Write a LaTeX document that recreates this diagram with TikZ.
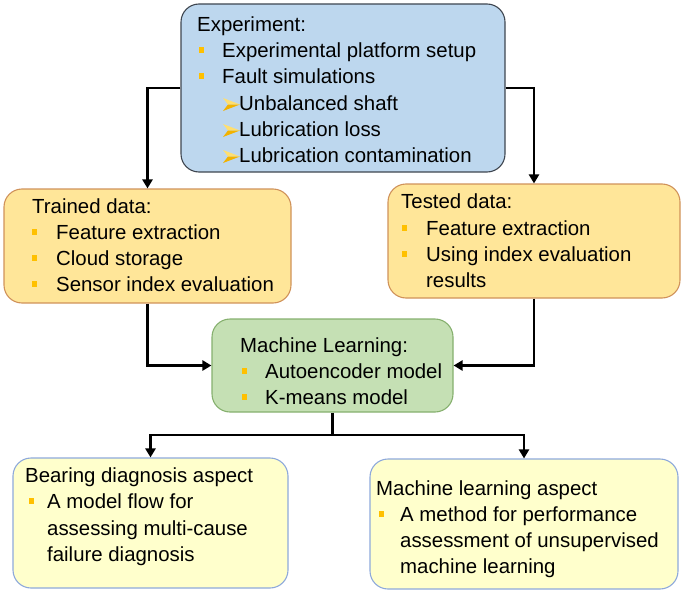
\documentclass[tikz,border=0pt]{standalone}
\usepackage{fontspec}
\setmainfont{Liberation Sans}
\usetikzlibrary{arrows.meta}
\definecolor{bluefill}{HTML}{BDD7EE}
\definecolor{blueline}{HTML}{3F4650}
\definecolor{orfill}{HTML}{FFE699}
\definecolor{orline}{HTML}{D0925A}
\definecolor{grfill}{HTML}{C5E0B4}
\definecolor{grline}{HTML}{86B06E}
\definecolor{yefill}{HTML}{FFFFCC}
\definecolor{yeline}{HTML}{8EA9DB}
\definecolor{bulcol}{HTML}{FFC000}
\definecolor{bullight}{HTML}{FFDF70}
\definecolor{buldark}{HTML}{F2B200}
\tikzset{
  box/.style={draw, rounded corners=18pt, line width=1.1pt, inner sep=0pt},
  txt/.style={anchor=base west, inner sep=0pt, font=\fontsize{20.4}{24}\selectfont},
  wire/.style={line width=2.8pt},
  conn/.style={line width=2.8pt, -{Triangle[length=9pt,width=10pt]}},
}
\newcommand{\bul}[2]{\fill[bulcol] (#1-2.6,#2-9.6) rectangle (#1+2.6,#2-4.4);}
\newcommand{\subarrow}[2]{%
  \fill[bullight] (#1,#2-12) -- (#1+17,#2-5.5) -- (#1+5,#2-5.5) -- cycle;
  \fill[buldark] (#1+5,#2-5.5) -- (#1+17,#2-5.5) -- (#1,#2+1) -- cycle;}
\begin{document}
\begin{tikzpicture}[x=1pt,y=-1pt]
\useasboundingbox (0,0) rectangle (685,594);
% boxes
\node[box, fill=bluefill, draw=blueline, minimum width=324pt, minimum height=168pt] (exp) at (343,88) {};
\node[box, fill=orfill, draw=orline, minimum width=287pt, minimum height=114pt] (trn) at (147.5,246) {};
\node[box, fill=orfill, draw=orline, minimum width=292pt, minimum height=114pt] (tst) at (534,241) {};
\node[box, fill=grfill, draw=grline, minimum width=241pt, minimum height=93pt] (ml) at (332.5,365.5) {};
\node[box, fill=yefill, draw=yeline, minimum width=275pt, minimum height=130pt] (bear) at (150.5,523) {};
\node[box, fill=yefill, draw=yeline, minimum width=308pt, minimum height=130pt] (mla) at (524,524) {};
% experiment text
\node[txt] (e0) at (197,32) {Experiment:};
\bul{201.5}{57}
\node[txt] (e1) at (222,57) {Experimental platform setup};
\bul{201.5}{83}
\node[txt] (e2) at (222,83) {Fault simulations};
\subarrow{223}{110}
\node[txt] (e3) at (239,110) {Unbalanced shaft};
\subarrow{223}{136}
\node[txt] (e4) at (239,136) {Lubrication loss};
\subarrow{223}{162}
\node[txt] (e5) at (239,162) {Lubrication contamination};
% trained
\node[txt] (r0) at (32,213) {Trained data:};
\bul{34.5}{239}
\node[txt] (r1) at (56,239) {Feature extraction};
\bul{34.5}{265}
\node[txt] (r2) at (56,265) {Cloud storage};
\bul{34.5}{291}
\node[txt] (r3) at (56,291) {Sensor index evaluation};
% tested
\node[txt] (s0) at (401,208) {Tested data:};
\bul{404.5}{235}
\node[txt] (s1) at (426,235) {Feature extraction};
\bul{404.5}{261}
\node[txt] (s2) at (426,261) {Using index evaluation};
\node[txt] (s3) at (426,287) {results};
% machine learning
\node[txt] (m0) at (240,352) {Machine Learning:};
\bul{244.5}{378}
\node[txt] (m1) at (265,378) {Autoencoder model};
\bul{244.5}{404}
\node[txt] (m2) at (265,404) {K-means model};
% bearing aspect
\node[txt] (b0) at (25,482) {Bearing diagnosis aspect};
\bul{31.5}{508}
\node[txt] (b1) at (47,508) {A model flow for};
\node[txt] (b2) at (47,535) {assessing multi-cause};
\node[txt] (b3) at (47,561) {failure diagnosis};
% ml aspect
\node[txt] (c0) at (376,495) {Machine learning aspect};
\bul{381.5}{521}
\node[txt] (c1) at (400,521) {A method for performance};
\node[txt] (c2) at (400,547) {assessment of unsupervised};
\node[txt] (c3) at (400,573) {machine learning};
% connectors
\draw[conn] (exp.west) -| (trn.north);
\draw[conn] (exp.east) -| (tst.north);
\draw[conn] (trn.south) |- (ml.west);
\draw[conn] (tst.south) |- (ml.east);
\coordinate (split) at (332.5,435);
\draw[wire] (ml.south) -- (split);
\draw[conn] (split) -| (bear.north);
\draw[conn] (split) -| (mla.north);
\end{tikzpicture}
\end{document}
